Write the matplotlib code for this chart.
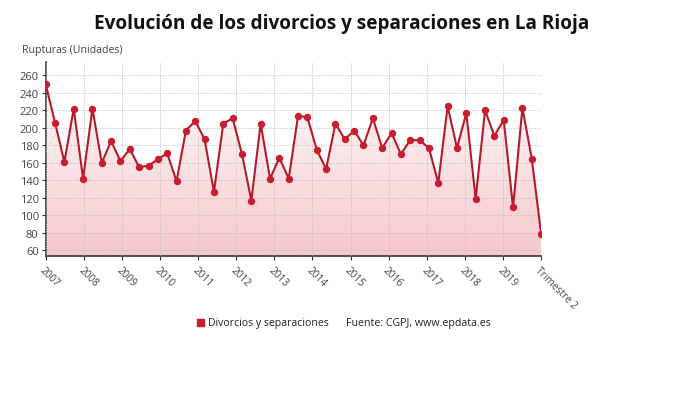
import numpy as np
from matplotlib import pyplot as plt, patches
from matplotlib.colors import LinearSegmentedColormap

# divorcios y separaciones por trimestre, 2007 T1 .. 2020 T2
values = [250, 206, 161, 222, 142, 222, 160, 185, 162, 176, 155, 157, 164, 171,
          139, 197, 208, 187, 127, 205, 211, 170, 117, 205, 142, 166, 142, 214,
          212, 175, 153, 205, 187, 197, 180, 211, 177, 194, 170, 186, 186, 177,
          137, 225, 177, 217, 119, 220, 191, 209, 109, 223, 165, 79]
tick_labels = ['2007', '2008', '2009', '2010', '2011', '2012', '2013', '2014',
               '2015', '2016', '2017', '2018', '2019', 'Trimestre 2']
y_ticks = [60, 80, 100, 120, 140, 160, 180, 200, 220, 240, 260]

plt.rcParams['font.family'] = ['Open Sans', 'DejaVu Sans']

line_col = '#b31b2b'
dot_col = '#c81d2e'
text_col = '#444444'

fig = plt.figure(figsize=(6.9, 4.06), dpi=100)
ax = fig.add_axes([0.0662, 0.368, 0.718, 0.476])

x = np.arange(len(values))
n = len(values) - 1
ymin, ymax = 54, 275

# gradient fill under the line
cmap = LinearSegmentedColormap.from_list('rosa', ['#f6c8cc', '#ffffff'])
grad = np.linspace(0, 1, 256).reshape(-1, 1)
img = ax.imshow(grad, cmap=cmap, aspect='auto', origin='lower',
                extent=[0, n, ymin, ymax], zorder=1)
poly = ax.fill_between(x, values, ymin, color='none', lw=0)
clip = patches.PathPatch(poly.get_paths()[0], transform=ax.transData,
                         facecolor='none', edgecolor='none')
ax.add_patch(clip)
img.set_clip_path(clip)

ax.plot(x, values, color=line_col, lw=1.5, zorder=3)
ax.plot(x, values, 'o', color=dot_col, ms=4.3, zorder=4)

ax.set_xlim(0, n)
ax.set_ylim(ymin, ymax)

xt = [k * n / 13 for k in range(13)] + [n]
ax.set_xticks(xt)
ax.set_xticklabels(tick_labels, rotation=-45, ha='left', va='top',
                   rotation_mode='anchor', fontsize=7.3, color=text_col)
ax.set_yticks(y_ticks)
ax.set_yticklabels([str(v) for v in y_ticks], fontsize=8, color=text_col)
ax.tick_params(axis='x', length=3, width=0.8, color='#333333', pad=3)
ax.tick_params(axis='y', length=3, width=0.8, color='#333333', pad=2)

ax.grid(True, color='#bdbdbd', ls=(0, (1, 1.5)), lw=0.7, zorder=2)
ax.set_axisbelow(False)
for s in ['top', 'right']:
    ax.spines[s].set_visible(False)
ax.spines['left'].set_color('#333333')
ax.spines['bottom'].set_color('#333333')
ax.spines['left'].set_linewidth(1.2)
ax.spines['bottom'].set_linewidth(1.2)

fig.text(0.495, 1 - 24 / 406, 'Evolución de los divorcios y separaciones en La Rioja',
         ha='center', va='center', fontsize=13.7, fontweight='bold', color='#111111')
fig.text(22 / 690, 1 - 50 / 406, 'Rupturas (Unidades)', ha='left', va='center',
         fontsize=7.6, color=text_col)

# leyenda
fig.add_artist(patches.Rectangle((197 / 690, 1 - 327 / 406), 7 / 690, 7 / 406,
                                 transform=fig.transFigure, color=dot_col))
fig.text(208 / 690, 1 - 323.5 / 406, 'Divorcios y separaciones', ha='left',
         va='center', fontsize=7.6, color='#222222')
fig.text(346 / 690, 1 - 323.5 / 406, 'Fuente: CGPJ, www.epdata.es', ha='left',
         va='center', fontsize=7.7, color='#222222')

fig.savefig('out.png', dpi=100)
